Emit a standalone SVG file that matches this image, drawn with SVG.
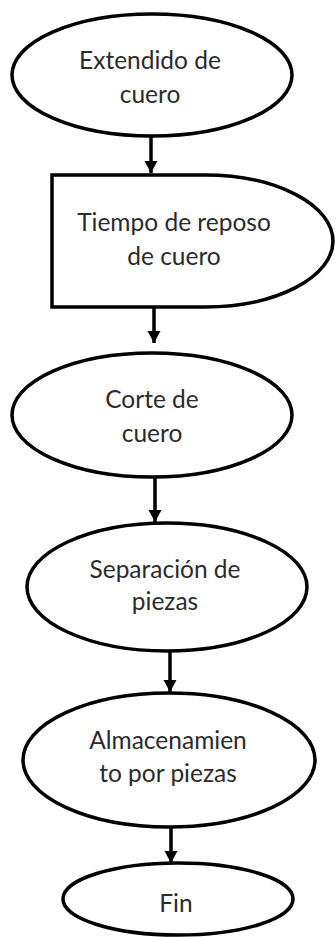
<svg xmlns="http://www.w3.org/2000/svg" width="336" height="937" viewBox="0 0 336 937">
<style>
.s{fill:#fff;stroke:#000;stroke-width:3.5}
.t{font-family:Lato,"Liberation Sans",sans-serif;font-size:24.5px;fill:#2b2b2b;text-anchor:middle}
.c{stroke:#000;stroke-width:3.5;fill:none}
</style>
<defs>
<marker id="ah" markerUnits="userSpaceOnUse" markerWidth="14" markerHeight="14" refX="12" refY="6.5" orient="auto">
<path d="M0,0 L12,6.5 L0,13 Z" fill="#000"/>
</marker>
</defs>
<rect width="336" height="937" fill="#fff"/>
<g id="connectors">
<line class="c" x1="151" y1="137" x2="151" y2="173" marker-end="url(#ah)"/>
<line class="c" x1="154" y1="307" x2="154" y2="343" marker-end="url(#ah)"/>
<line class="c" x1="155" y1="477" x2="155" y2="522" marker-end="url(#ah)"/>
<line class="c" x1="170" y1="652" x2="170" y2="692" marker-end="url(#ah)"/>
<line class="c" x1="171" y1="827" x2="171" y2="863" marker-end="url(#ah)"/>
</g>
<g id="n1">
<ellipse class="s" cx="152" cy="75" rx="140" ry="61"/>
<text class="t" x="150" y="69">Extendido de</text>
<text class="t" x="150" y="103">cuero</text>
</g>
<g id="n2">
<path class="s" d="M52,175 L205,175 A128,66 0 0 1 205,307 L52,307 Z"/>
<text class="t" x="174" y="231">Tiempo de reposo</text>
<text class="t" x="174" y="265">de cuero</text>
</g>
<g id="n3">
<ellipse class="s" cx="152" cy="415" rx="140" ry="62"/>
<text class="t" x="152" y="408">Corte de</text>
<text class="t" x="152" y="442">cuero</text>
</g>
<g id="n4">
<ellipse class="s" cx="167" cy="587" rx="140" ry="64"/>
<text class="t" x="165" y="578">Separación de</text>
<text class="t" x="165" y="610">piezas</text>
</g>
<g id="n5">
<ellipse class="s" cx="169" cy="760" rx="146" ry="67"/>
<text class="t" x="168" y="749">Almacenamien</text>
<text class="t" x="168" y="782">to por piezas</text>
</g>
<g id="n6">
<ellipse class="s" cx="178" cy="899" rx="115" ry="36"/>
<text class="t" x="176" y="912">Fin</text>
</g>
</svg>
